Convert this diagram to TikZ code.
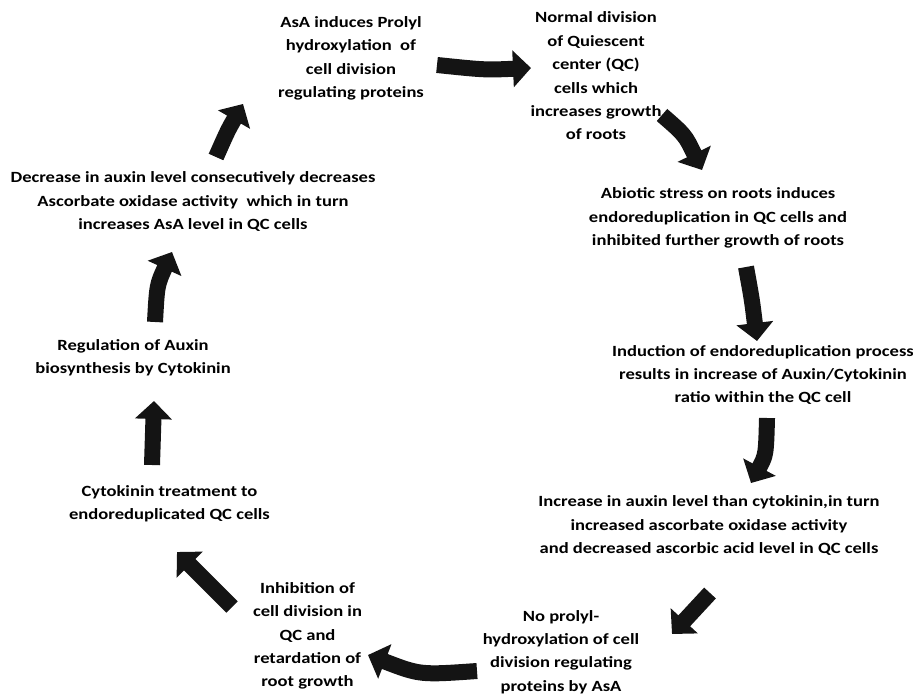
\documentclass[tikz,border=0pt]{standalone}
\usepackage{fontspec}
\setmainfont{Carlito}[FakeStretch=1.19]
\usetikzlibrary{arrows.meta}
\begin{document}
\begin{tikzpicture}[x=0.5pt, y=-0.5pt, every node/.style={font=\fontsize{7.8}{11.7}\selectfont\bfseries}]
        \tikzset{
            txt/.style={align=center, inner sep=0pt},
            flow/.style={line width=8pt, color=black!92, -{Triangle[length=9pt,width=18pt]}}
        }
        \useasboundingbox (0,0) rectangle (913,695);
        \node[txt] (asa) at (351,58.5) {AsA induces Prolyl\\hydroxylation\ \ of\\cell division\\regulating proteins};
        \node[txt] (norm) at (596,76) {Normal division\\of Quiescent\\center (QC)\\cells which\\increases growth\\of roots};
        \node[txt] (abio) at (718,218) {Abiotic stress on roots induces\\endoreduplication in QC cells and\\inhibited further growth of roots};
        \node[txt] (indu) at (763,375) {Induction of endoreduplication process\\results in increase of Auxin/Cytokinin\\ratio within the QC cell};
        \node[txt] (incr) at (709,525.5) {Increase in auxin level than cytokinin,in turn\\increased ascorbate oxidase activity\\and decreased ascorbic acid level in QC cells};
        \node[txt] (nopro) at (561,652) {No prolyl-\\hydroxylation of cell\\division regulating\\proteins by AsA};
        \node[txt] (inhib) at (307.5,636) {Inhibition of\\cell division in\\QC and\\retardation of\\root growth};
        \node[txt] (cyto) at (169.5,504) {Cytokinin treatment to\\endoreduplicated QC cells};
        \node[txt] (regu) at (133,358) {Regulation of Auxin\\biosynthesis by Cytokinin};
        \node[txt] (decr) at (193,201.5) {Decrease in auxin level consecutively decreases\\Ascorbate oxidase activity\ \ which in turn\\increases AsA level in QC cells};
        % arrow ends
        \coordinate (s1) at (437,65);  \coordinate (e1) at (531,68);
        \coordinate (s2) at (662,115); \coordinate (e2) at (702,170);
        \coordinate (s3) at (746,267); \coordinate (e3) at (757,341);
        \coordinate (s4) at (767,418); \coordinate (e4) at (751,483);
        \coordinate (s5) at (710,593); \coordinate (e5) at (672,634);
        \coordinate (s6) at (477,671); \coordinate (e6) at (368,655);
        \coordinate (s7) at (232,607); \coordinate (e7) at (177,552);
        \coordinate (s8) at (152,465); \coordinate (e8) at (154,401);
        \coordinate (s9) at (155,322); \coordinate (e9) at (172,252);
        \coordinate (s10) at (216,157); \coordinate (e10) at (243,104);
        \draw[flow] (s1) .. controls (485,70) .. (e1);
        \draw[flow] (s2) .. controls (685,135) .. (e2);
        \draw[flow] (s3) .. controls (752,300) .. (e3);
        \draw[flow] (s4) .. controls (766,455) .. (e4);
        \draw[flow] (s5) -- (e5);
        \draw[flow] (s6) .. controls (420,675) .. (e6);
        \draw[flow] (s7) -- (e7);
        \draw[flow] (s8) -- (e8);
        \draw[flow] (s9) .. controls (157,285) .. (e9);
        \draw[flow] (s10) .. controls (228,130) .. (e10);
    \end{tikzpicture}
\end{document}
